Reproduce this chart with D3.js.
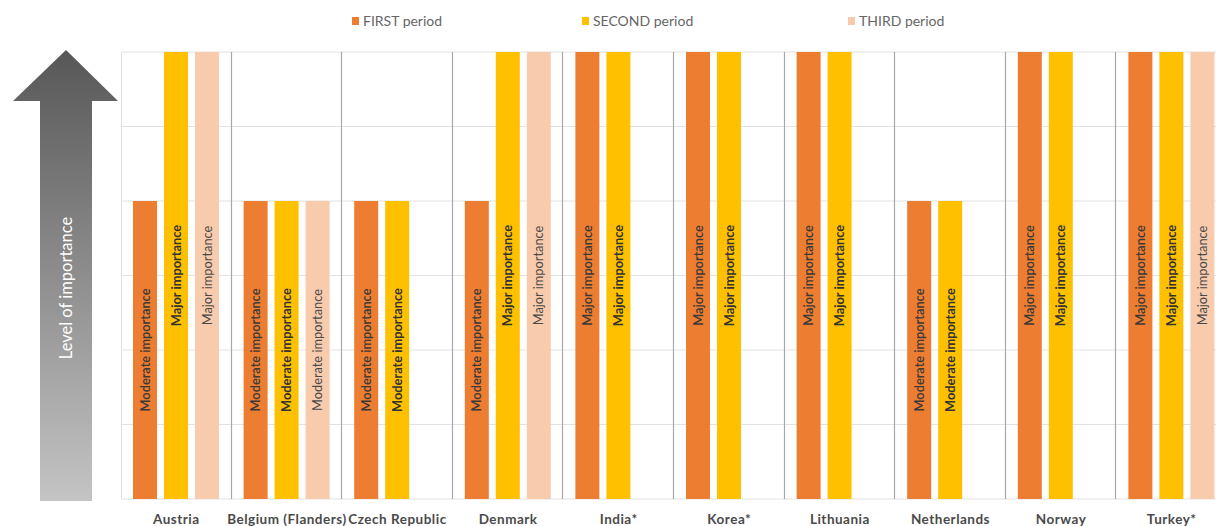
<!DOCTYPE html>
<html>
<head>
<meta charset="utf-8">
<script src="https://cdn.jsdelivr.net/npm/d3@7"></script>
<style>
  html, body { margin: 0; padding: 0; background: #fff; }
  svg { display: block; font-family: Lato, "Open Sans", sans-serif; }
</style>
</head>
<body>
<svg id="chart" width="1216" height="526"></svg>
<script>
// Countries along the x axis
const categories = ["Austria", "Belgium (Flanders)", "Czech Republic", "Denmark", "India*",
  "Korea*", "Lithuania", "Netherlands", "Norway", "Turkey*"];

// Period series (4 = moderate importance, 6 = major importance, null = not reported)
const seriesNames = ["FIRST period", "SECOND period", "THIRD period"];
const firstPeriod  = [4, 4, 4, 4, 6, 6, 6, 4, 6, 6];
const secondPeriod = [6, 4, 4, 6, 6, 6, 6, 4, 6, 6];
const thirdPeriod  = [6, 4, null, 6, null, null, null, null, null, 6];

// Value → label text
const levelLabels = { 4: "Moderate importance", 6: "Major importance" };
const yTicks = [0, 1, 2, 3, 4, 5, 6];

const colors = ["#ED7D31", "#FFC000", "#F8CBAD"];
const labelWeights = [600, 700, 400];
const labelColors = ["#3a3a3a", "#333333", "#4a4a4a"];
const seriesValues = [firstPeriod, secondPeriod, thirdPeriod];

const svg = d3.select("#chart");
const plot = { left: 121, top: 52, bottom: 499, step: 110.6 };

const x0 = d3.scaleBand()
  .domain(categories)
  .range([plot.left, plot.left + plot.step * categories.length])
  .paddingInner(0).paddingOuter(0);

const x1 = d3.scaleBand()
  .domain(seriesNames)
  .range([12, 98])
  .paddingInner(7 / 31).paddingOuter(0);

const y = d3.scaleLinear().domain([0, 6]).range([plot.bottom, plot.top]);

// Gradient for the "level of importance" arrow
const defs = svg.append("defs");
const grad = defs.append("linearGradient")
  .attr("id", "arrowGrad").attr("x1", 0).attr("y1", 0).attr("x2", 0).attr("y2", 1);
grad.append("stop").attr("offset", "0%").attr("stop-color", "#575757");
grad.append("stop").attr("offset", "100%").attr("stop-color", "#c4c4c4");

const arrow = svg.append("g");
arrow.append("path")
  .attr("d", "M66,50 L118,101 L92,101 L92,501 L40,501 L40,101 L13,101 Z")
  .attr("fill", "url(#arrowGrad)");
arrow.append("text")
  .attr("transform", "translate(72,288) rotate(-90)")
  .attr("text-anchor", "middle")
  .attr("fill", "#ffffff")
  .attr("font-size", 16.5)
  .text("Level of importance");

// Horizontal gridlines
svg.append("g")
  .selectAll("line")
  .data(yTicks)
  .join("line")
  .attr("x1", plot.left).attr("x2", 1216)
  .attr("y1", d => y(d)).attr("y2", d => y(d))
  .attr("stroke", "#e2e2e2").attr("stroke-width", 1);

// Left border of the plot
svg.append("line")
  .attr("x1", plot.left + 0.5).attr("x2", plot.left + 0.5)
  .attr("y1", plot.top).attr("y2", plot.bottom)
  .attr("stroke", "#e2e2e2");

// Country separators
svg.append("g")
  .selectAll("line")
  .data(categories.slice(1))
  .join("line")
  .attr("x1", d => Math.round(x0(d)) - 0.5).attr("x2", d => Math.round(x0(d)) - 0.5)
  .attr("y1", plot.top).attr("y2", plot.bottom)
  .attr("stroke", "#a8a8a8").attr("stroke-width", 1.2);

// Bars and their rotated value labels
const groups = svg.append("g")
  .selectAll("g")
  .data(categories)
  .join("g")
  .attr("transform", d => `translate(${x0(d)},0)`);

const cells = groups.selectAll("g")
  .data((c, ci) => seriesNames.map((s, si) => ({ s, si, v: seriesValues[si][ci] })).filter(d => d.v != null))
  .join("g");

cells.append("rect")
  .attr("x", d => x1(d.s))
  .attr("width", x1.bandwidth())
  .attr("y", d => y(d.v))
  .attr("height", d => y(0) - y(d.v))
  .attr("fill", d => colors[d.si]);

cells.append("text")
  .attr("transform", d => `translate(${x1(d.s) + x1.bandwidth() / 2 + 4.5},${(y(d.v) + y(0)) / 2}) rotate(-90)`)
  .attr("text-anchor", "middle")
  .attr("font-size", 12.8)
  .attr("font-weight", d => labelWeights[d.si])
  .attr("fill", d => labelColors[d.si])
  .text(d => levelLabels[d.v]);

// Category axis labels
svg.append("g")
  .selectAll("text")
  .data(categories)
  .join("text")
  .attr("x", d => x0(d) + x0.bandwidth() / 2)
  .attr("y", 524)
  .attr("text-anchor", "middle")
  .attr("font-size", 13.5)
  .attr("font-weight", 700)
  .attr("letter-spacing", 0.5)
  .attr("fill", "#4a4a4a")
  .text(d => d);

// Legend
const legendX = [352, 582, 848];
const legend = svg.append("g")
  .selectAll("g")
  .data(seriesNames)
  .join("g")
  .attr("transform", (d, i) => `translate(${legendX[i]},17)`);
legend.append("rect").attr("width", 7).attr("height", 8).attr("fill", (d, i) => colors[i]);
legend.append("text")
  .attr("x", 11).attr("y", 9)
  .attr("font-size", 14)
  .attr("fill", "#666666")
  .text(d => d);
</script>
</body>
</html>
